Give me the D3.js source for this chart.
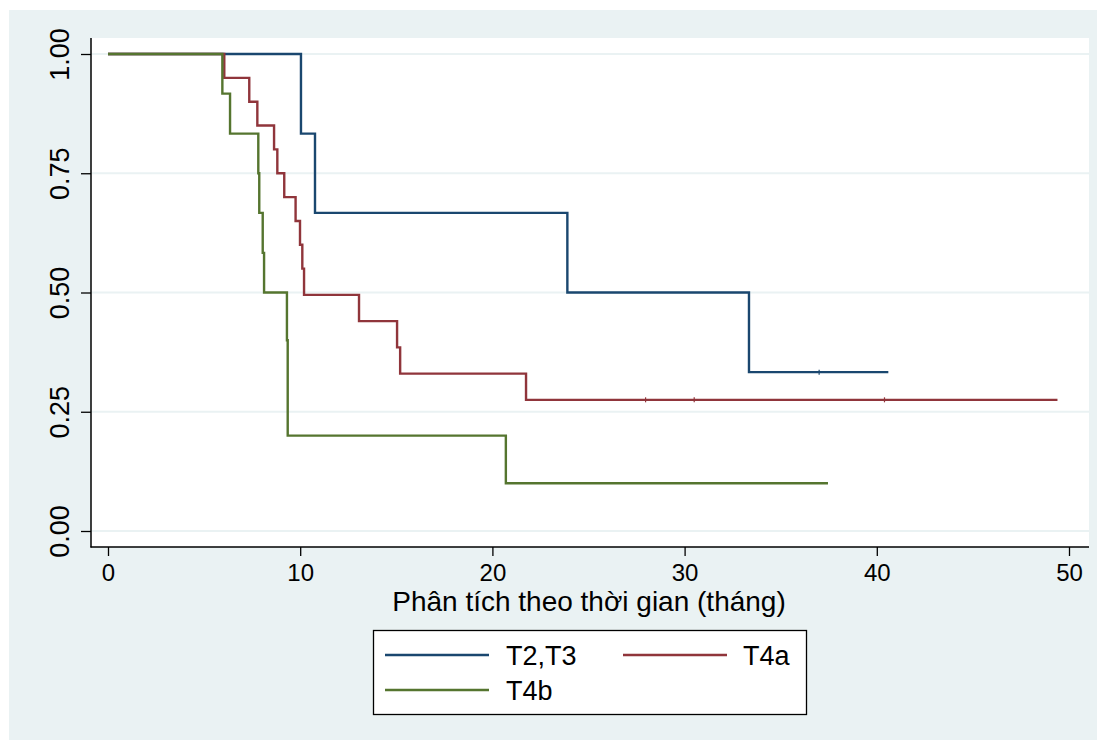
<!DOCTYPE html>
<html>
<head>
<meta charset="utf-8">
<script src="https://cdn.jsdelivr.net/npm/d3@7"></script>
<style>
  html, body { margin: 0; padding: 0; background: #ffffff; }
  svg { display: block; }
  text { font-family: "Liberation Sans", Arial, Helvetica, sans-serif; fill: #000; }
</style>
</head>
<body>
<svg id="chart" width="1097" height="740"></svg>
<script>
// ---------------- data ----------------
const groups = ["T2,T3", "T4a", "T4b"];
const colors = ["#1a476f", "#90353b", "#55752f"];

const t23Time   = [0, 10.04, 10.77, 23.9, 33.35, 40.6];
const t23Surv   = [1, 0.833, 0.667, 0.5, 0.333, 0.333];
const t23Censor = [37.0];

const t4aTime   = [0, 6.05, 7.35, 7.77, 8.64, 8.81, 9.17, 9.76, 9.99, 10.11, 10.2, 13.06, 15.04, 15.2, 21.75, 49.4];
const t4aSurv   = [1, 0.95, 0.90, 0.85, 0.80, 0.75, 0.70, 0.65, 0.60, 0.55, 0.495, 0.44, 0.385, 0.33, 0.275, 0.275];
const t4aCensor = [27.97, 30.5, 40.4];

const t4bTime   = [0, 5.95, 6.35, 7.82, 7.87, 8.05, 8.12, 9.31, 9.35, 20.7, 37.46];
const t4bSurv   = [1, 0.917, 0.833, 0.75, 0.667, 0.583, 0.5, 0.4, 0.2, 0.1, 0.1];
const t4bCensor = [];

const xTicks = [0, 10, 20, 30, 40, 50];
const yTicks = [0, 0.25, 0.5, 0.75, 1];
const xTitle = "Phân tích theo thời gian (tháng)";

// ---------------- layout ----------------
const svg = d3.select("#chart");
const W = 1097, H = 740;

const plot = { left: 91, right: 1089, top: 38, bottom: 547 };
const x = d3.scaleLinear().domain([0, 50]).range([108, 1069]);
const y = d3.scaleLinear().domain([0, 1]).range([531, 54]);

// outer background
svg.append("rect").attr("x", 0).attr("y", 0).attr("width", W).attr("height", H).attr("fill", "#ffffff");
svg.append("rect").attr("x", 9).attr("y", 10).attr("width", W - 9).attr("height", H - 10).attr("fill", "#eaf2f3");
// plot region
svg.append("rect").attr("x", plot.left).attr("y", plot.top)
  .attr("width", plot.right - plot.left).attr("height", plot.bottom - plot.top).attr("fill", "#ffffff");

// gridlines
svg.append("g").selectAll("line").data(yTicks).join("line")
  .attr("x1", plot.left).attr("x2", plot.right)
  .attr("y1", d => y(d)).attr("y2", d => y(d))
  .attr("stroke", "#eaf2f3").attr("stroke-width", 2);

// y axis
const yAxis = d3.axisLeft(y).tickValues(yTicks).tickFormat(d3.format(".2f")).tickSize(10).tickPadding(0);
const gy = svg.append("g").attr("transform", `translate(${plot.left},0)`).call(yAxis);
gy.select(".domain").remove();
gy.selectAll(".tick line").attr("stroke", "#000").attr("stroke-width", 1.3);
gy.selectAll(".tick text")
  .attr("x", 0).attr("y", 0).attr("dy", null)
  .attr("text-anchor", "middle")
  .attr("transform", "translate(-22,0) rotate(-90)")
  .style("font-size", "27px")
  .style("font-family", '"Liberation Sans", Arial, sans-serif')
  .attr("fill", "#000");
svg.append("line").attr("x1", plot.left).attr("x2", plot.left)
  .attr("y1", plot.top).attr("y2", plot.bottom + 0.5)
  .attr("stroke", "#000").attr("stroke-width", 1.5);

// x axis
const xAxis = d3.axisBottom(x).tickValues(xTicks).tickFormat(d3.format("d")).tickSize(9).tickPadding(8);
const gx = svg.append("g").attr("transform", `translate(0,${plot.bottom})`).call(xAxis);
gx.select(".domain").remove();
gx.selectAll(".tick line").attr("stroke", "#000").attr("stroke-width", 1.3);
gx.selectAll(".tick text")
  .style("font-size", "24px")
  .style("font-family", '"Liberation Sans", Arial, sans-serif')
  .attr("fill", "#000");
svg.append("line").attr("x1", plot.left - 0.5).attr("x2", plot.right)
  .attr("y1", plot.bottom).attr("y2", plot.bottom)
  .attr("stroke", "#000").attr("stroke-width", 1.5);

// x title
svg.append("text").attr("x", 589).attr("y", 611)
  .attr("text-anchor", "middle").style("font-size", "28px").text(xTitle);

// ---------------- curves ----------------
const series = [
  { name: groups[0], color: colors[0], time: t23Time, surv: t23Surv, censor: t23Censor },
  { name: groups[1], color: colors[1], time: t4aTime, surv: t4aSurv, censor: t4aCensor },
  { name: groups[2], color: colors[2], time: t4bTime, surv: t4bSurv, censor: t4bCensor }
];

const line = d3.line().x(d => x(d[0])).y(d => y(d[1])).curve(d3.curveStepAfter);

function survAt(s, t) {
  let v = s.surv[0];
  for (let i = 0; i < s.time.length; i++) if (s.time[i] <= t) v = s.surv[i];
  return v;
}

series.forEach(s => {
  const pts = s.time.map((t, i) => [t, s.surv[i]]);
  svg.append("path").datum(pts).attr("d", line)
    .attr("fill", "none").attr("stroke", s.color).attr("stroke-width", 2.4)
    .attr("stroke-linejoin", "miter").attr("stroke-linecap", "butt");
  svg.append("g").selectAll("line").data(s.censor).join("line")
    .attr("x1", d => x(d)).attr("x2", d => x(d))
    .attr("y1", d => y(survAt(s, d)) - 2.5).attr("y2", d => y(survAt(s, d)) + 2.5)
    .attr("stroke", s.color).attr("stroke-width", 1.2);
});

// ---------------- legend ----------------
const lg = svg.append("g");
lg.append("rect").attr("x", 373.5).attr("y", 630.5).attr("width", 433).attr("height", 84)
  .attr("fill", "#ffffff").attr("stroke", "#000").attr("stroke-width", 1.3);
const legendPos = [
  { lx: 385, ly: 655, tx: 506 },
  { lx: 623, ly: 655, tx: 743 },
  { lx: 385, ly: 690, tx: 506 }
];
series.forEach((s, i) => {
  const p = legendPos[i];
  lg.append("line").attr("x1", p.lx).attr("x2", p.lx + 104).attr("y1", p.ly).attr("y2", p.ly)
    .attr("stroke", s.color).attr("stroke-width", 2.4);
  lg.append("text").attr("x", p.tx).attr("y", p.ly + 10).style("font-size", "27px").text(s.name);
});
</script>
</body>
</html>
